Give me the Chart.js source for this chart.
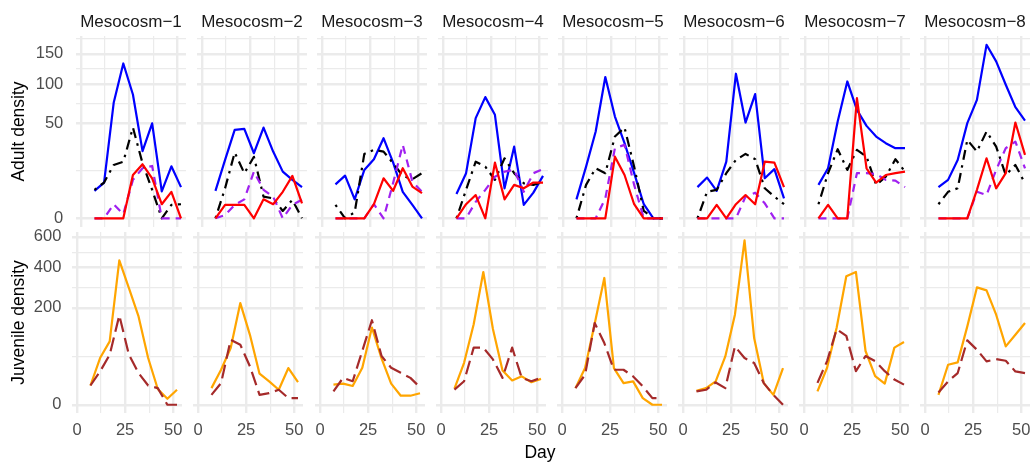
<!DOCTYPE html>
<html><head><meta charset="utf-8">
<script src="https://cdn.jsdelivr.net/npm/chart.js@4.4.1/dist/chart.umd.min.js"></script>
<style>
html,body{margin:0;padding:0;background:#fff;width:1031px;height:462px;overflow:hidden;position:relative;font-family:"Liberation Sans",Arial,sans-serif}
.box{position:absolute}
.strip{position:absolute;font-size:17px;line-height:17px;color:#1a1a1a;text-align:center;white-space:nowrap;width:110px}
.xtitle{position:absolute;font-size:17.5px;line-height:18px;color:#000;white-space:nowrap;width:100px;text-align:center}
</style></head><body>
<script>
// ---------- data ----------
const days = [7, 12, 17, 22, 27, 32, 37, 42, 47, 52];
const mesocosms = ['Mesocosm−1','Mesocosm−2','Mesocosm−3','Mesocosm−4','Mesocosm−5','Mesocosm−6','Mesocosm−7','Mesocosm−8'];
const xTickLabels = [0, 25, 50];
const adultTickLabels = [0, 50, 100, 150];
const juvTickLabels = [0, 200, 400, 600];
const rowTitles = ['Adult density', 'Juvenile density'];

// Adult density (one row per mesocosm)
const adultBlue = [
  [4.2, 7.1, 74, 133, 85, 25, 50, 4, 15, 5.4],
  [4.2, 18.9, 43.4, 44.4, 23.5, 45.7, 24.7, 12.1, 8.2, 5.4],
  [6.4, 10.1, 2, 13, 19.4, 35.6, 17.2, 3.9, 1, 0],
  [3.3, 11.3, 55.7, 81.5, 59.4, 5, 28.5, 1, 3.65, 10],
  [2, 14.8, 41.8, 110.7, 57.5, 31.3, 11.3, 1.1, 0, 0],
  [5.4, 9.2, 4.2, 17.8, 116, 50.9, 85.6, 8.9, 13.4, 2.2],
  [6.2, 13.9, 52, 103.9, 65.3, 47.4, 37.1, 31.3, 27.3, 27.3],
  [5.4, 8.2, 18.9, 50.3, 77.9, 167, 136.6, 99, 68.6, 53]
];
const adultBlack = [
  [4.5, 7.1, 15.8, 17.8, 45.7, 16.8, 4.5, 0, 1, 1.1],
  [0, 5, 24, 11.3, 21, 2.6, 2.2, 0.3, 1.9, 0],
  [1, 0, 0.2, 23, 26, 24.7, 16.8, 10, 8.5, 11.3],
  [0, 4.5, 17.8, 14.8, 8.2, 20, 11.3, 6.8, 6.2, 7.5],
  [0, 6.2, 13.9, 11.3, 37.1, 45.7, 14.8, 0.3, 0, 0],
  [0, 3.9, 4.5, 11.3, 18.9, 23, 19.4, 5, 2.6, 1.1],
  [1.1, 11.3, 26.5, 13, 26, 21.1, 6.2, 9.6, 19.4, 12.1],
  [1.1, 3.9, 5, 34.1, 24.7, 41.8, 28.5, 10.4, 15.8, 6.8]
];
const adultRed = [
  [0, 0, 0, 0, 10.4, 16.2, 8.9, 1.1, 3.9, 0],
  [0, 1, 1, 1, 0, 2, 1.1, 3.9, 10, 1.25],
  [0, 0, 0, 0, 1.1, 8.9, 4.2, 13.9, 5.6, 3.5],
  [0, 1.1, 3, 0, 17.2, 2, 6.2, 5, 7.1, 7.1],
  [0, 0, 0, 0, 21.1, 10.4, 1.1, 0, 0, 0],
  [0, 0, 1, 0, 1.1, 3, 1.1, 17.8, 17.2, 5.4],
  [0, 1, 0, 0, 80.2, 13.9, 7.1, 10.4, 11.3, 12.1],
  [0, 0, 0, 0, 4.5, 20, 5, 11.3, 50.9, 22.3]
];
const adultPurple = [
  [0, 0, 1.1, 0.1, 8.2, 13.9, 15.2, 0, 0, 0],
  [0, 0.06, 1, 2, 12.1, 4.5, 2.6, 0, 1, 1.9],
  [0, 0, 0, 0, 1.1, 0, 7, 29.9, 7.5, 3.9],
  [0, 0, 1.5, 4.5, 9.6, 12.1, 13, 3.9, 11.3, 13.4],
  [0, 0, 0, 2.2, 27.3, 29.9, 6.2, 0, 0, 0],
  [0, 0, 0, 0, 0, 2.6, 3.65, 1.25, 0, 0],
  [0, 0, 0, 0, 11.3, 11.3, 10.9, 8.2, 7.9, 5.4],
  [0, 0, 0, 0, 3.9, 3, 13, 27.3, 32.7, 13.9]
];
// Juvenile density
const juvOrange = [
  [7.9, 46.5, 85.4, 444, 290, 166, 46.5, 5.3, 0.77, 4.8],
  [5.9, 26.1, 68.5, 220, 104, 20.5, 11.6, 4.8, 28.7, 11],
  [8.65, 9.5, 7.5, 29.1, 127, 45.8, 9.5, 1.75, 1.75, 2.8],
  [5.5, 37.5, 138, 375, 122, 25, 12.6, 17.2, 10.8, 14.3],
  [5.9, 28.7, 140, 342, 28.7, 10, 11.6, 0.95, 0, 0],
  [4.2, 5.9, 11.6, 49.8, 172.6, 575, 94.8, 10, 2.1, 28.7],
  [3.8, 29.1, 127, 351, 375, 61.5, 17.4, 9.5, 69.4, 84],
  [2.1, 34.1, 38.2, 130.7, 293, 278.5, 172.6, 72.5, 104.4, 142]
];
const juvBrown = [
  [7.9, 23.6, 53.3, 170, 53.3, 21.4, 7.9, 5.9, 0, 0],
  [2.1, 10, 90, 76.7, 31.3, 2.1, 2.9, 4.8, 0.96, 0.96],
  [3.8, 15.4, 11.8, 62, 152, 50.5, 29.1, 21.7, 15.4, 6.5],
  [4.9, 11.8, 69.4, 69.4, 43.8, 15.4, 69.4, 15.4, 11.8, 15.4],
  [5.9, 19.2, 142, 81, 26.1, 26.1, 17.1, 7.2, 0.95, 0.95],
  [3.8, 4.8, 10.6, 5.9, 72.5, 46.4, 37, 10, 2.1, 0],
  [10.2, 40.6, 121.6, 101, 24, 50.5, 40.6, 24, 13.5, 8.65],
  [3.2, 11.6, 21.4, 88.2, 64.5, 40, 44.5, 41.3, 23.7, 21.4]
];

// ---------- styling / layout ----------
const LW = 2.2;
const adultSeries = [
  {vals: adultRed, color: '#FF0000', dash: []},
  {vals: adultPurple, color: '#A020F0', dash: [8, 6]},
  {vals: adultBlack, color: '#000000', dash: [2.5, 5.5, 10, 5.5]},
  {vals: adultBlue, color: '#0000FF', dash: []}
];
const juvSeries = [
  {vals: juvBrown, color: '#A52A2A', dash: [14, 6]},
  {vals: juvOrange, color: '#FFA500', dash: []}
];
Chart.defaults.font.family = '"Liberation Sans", Arial, sans-serif';

const PAD = 34;
const PW = 110;
const rows = [
  {top: 36, h: 191, left: c => Math.round(76 + 120.6 * c), ylim: [-0.647, 13.58], ticks: adultTickLabels, series: adultSeries},
  {top: 232, h: 181, left: c => Math.round(72.3 + 121.1 * c), ylim: [-1.2, 25.2], ticks: juvTickLabels, series: juvSeries}
];

function sqrtTicks(labels, lo, hi) {
  const major = labels.map(v => Math.sqrt(v));
  const out = [];
  for (let i = 0; i < major.length; i++) {
    out.push({value: major[i], lab: String(labels[i]), mj: true});
    const next = i < major.length - 1 ? major[i + 1] : major[i] + (major[i] - major[i - 1]);
    const mid = (major[i] + next) / 2;
    if (mid >= lo && mid <= hi) out.push({value: mid, lab: '', mj: false});
  }
  out.sort((a, b) => a.value - b.value);
  return out;
}
function linTicks(labels) {
  const out = [];
  for (let i = 0; i < labels.length; i++) {
    out.push({value: labels[i], lab: String(labels[i]), mj: true});
    if (i < labels.length - 1) out.push({value: (labels[i] + labels[i + 1]) / 2, lab: '', mj: false});
  }
  return out;
}
const gridW = ctx => (ctx.tick && ctx.tick.mj) ? 2.4 : 1.2;

rows.forEach((row, r) => {
  for (let c = 0; c < 8; c++) {
    const L = row.left(c);
    const axisW = c === 0 ? L : 0;
    const axisH = r === 1 ? 49 : 0;
    const div = document.createElement('div');
    div.className = 'box';
    div.style.left = (L - axisW - PAD) + 'px';
    div.style.top = (row.top - PAD) + 'px';
    div.style.width = (PW + axisW + 2 * PAD) + 'px';
    div.style.height = (row.h + axisH + 2 * PAD) + 'px';
    const cv = document.createElement('canvas');
    div.appendChild(cv);
    document.body.appendChild(div);

    const datasets = row.series.map(s => ({
      data: days.map((d, i) => ({x: d, y: Math.sqrt(s.vals[c][i])})),
      borderColor: s.color, borderWidth: LW, borderDash: s.dash,
      pointRadius: 0, tension: 0, fill: false,
      borderJoinStyle: 'round', borderCapStyle: 'butt'
    }));

    new Chart(cv, {
      type: 'line',
      data: {datasets},
      options: {
        responsive: true, maintainAspectRatio: false, animation: false, events: [],
        layout: {padding: PAD},
        plugins: {legend: {display: false}, tooltip: {enabled: false}, title: {display: false}},
        scales: {
          x: {
            type: 'linear', min: -2.6, max: 54.6,
            afterBuildTicks: s => { s.ticks = linTicks(xTickLabels); },
            afterFit: s => { s.height = axisH; },
            grid: {color: '#EBEBEB', lineWidth: gridW, drawTicks: false},
            border: {display: false},
            ticks: {display: r === 1, padding: 8, color: '#4D4D4D', font: {size: 16.5},
                    maxRotation: 0, autoSkip: false, callback: (v, i, t) => t[i].lab}
          },
          y: {
            type: 'linear', min: row.ylim[0], max: row.ylim[1],
            afterBuildTicks: s => { s.ticks = sqrtTicks(row.ticks, row.ylim[0], row.ylim[1]); },
            afterFit: s => { s.width = axisW; },
            grid: {color: '#EBEBEB', lineWidth: gridW, drawTicks: false},
            border: {display: false},
            title: {display: c === 0, text: rowTitles[r], color: '#000', font: {size: 17.5}, padding: {top: 8.5, bottom: 0}},
            ticks: {display: c === 0, padding: r === 0 ? 12.7 : 10.6, color: '#4D4D4D', font: {size: 16.5},
                    autoSkip: false, callback: (v, i, t) => t[i].lab}
          }
        }
      }
    });

    if (r === 0) {
      const st = document.createElement('div');
      st.className = 'strip';
      st.textContent = mesocosms[c];
      st.style.left = L + 'px';
      st.style.top = '12.7px';
      document.body.appendChild(st);
    }
  }
});
const xt = document.createElement('div');
xt.className = 'xtitle';
xt.textContent = 'Day';
xt.style.left = (540 - 50) + 'px';
xt.style.top = '443px';
document.body.appendChild(xt);
</script>
</body></html>
